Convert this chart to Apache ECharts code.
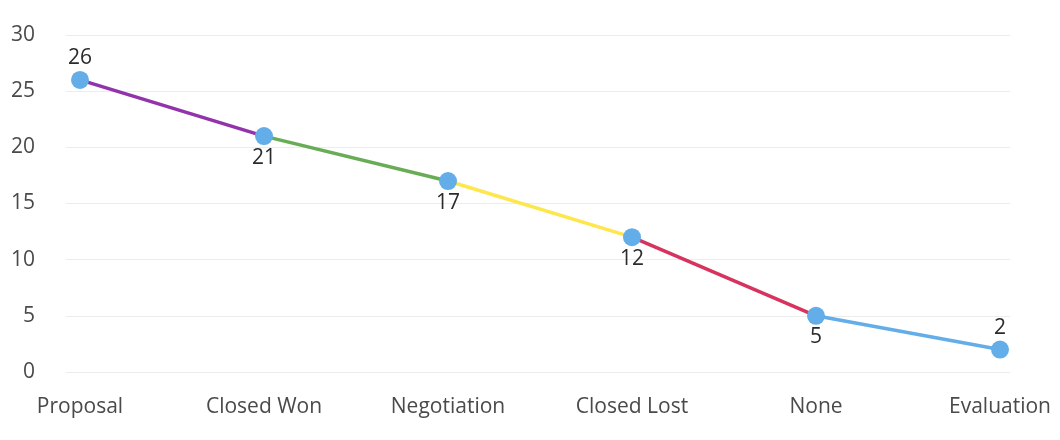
<!DOCTYPE html>
<html>
<head>
<meta charset="utf-8">
<script src="https://cdn.jsdelivr.net/npm/echarts@6/dist/echarts.min.js"></script>
<style>
html, body { margin: 0; padding: 0; background: #fff; }
#container { width: 1060px; height: 440px; }
</style>
</head>
<body>
<div id="container"></div>
<script>
// stages and counts
var stages = ['Proposal', 'Closed Won', 'Negotiation', 'Closed Lost', 'None', 'Evaluation'];
var counts = [26, 21, 17, 12, 5, 2];
var yTicks = [0, 5, 10, 15, 20, 25, 30];
// colour of the line going out of each stage
var segColors = ['#9333ab', '#68ad55', '#fde74c', '#d6335f', '#63ade8'];
var labelSide = ['top', 'bottom', 'bottom', 'bottom', 'bottom', 'top'];

var myChart = echarts.init(document.getElementById('container'));
var font = 'Open Sans';

var series = [];
// one little line per segment so each can have its own colour
for (var i = 0; i < counts.length - 1; i++) {
    series.push({
        type: 'line',
        data: [[i, counts[i]], [i + 1, counts[i + 1]]],
        showSymbol: false,
        silent: true,
        lineStyle: {color: segColors[i], width: 3.5},
        z: 2
    });
}
// points + labels on top
series.push({
    type: 'scatter',
    data: counts.map(function (v, i) {
        return {
            value: [i, v],
            label: {position: labelSide[i]}
        };
    }),
    symbolSize: 18,
    itemStyle: {color: '#63ade8', opacity: 1},
    label: {
        show: true,
        distance: 2,
        color: '#2b2b2b',
        fontSize: 21,
        fontFamily: font,
        formatter: function (p) { return p.value[1]; }
    },
    z: 3
});

var option = {
    animation: false,
    grid: {left: 66, right: 50, top: 35, bottom: 68},
    xAxis: {
        type: 'value',
        min: -0.0761,
        max: 5.0543,
        splitLine: {show: false},
        axisLine: {show: false},
        axisTick: {show: false},
        axisLabel: {
            customValues: stages.map(function (s, i) { return i; }),
            formatter: function (v) { return stages[Math.round(v)]; },
            color: '#4a4a4a',
            fontSize: 21,
            fontFamily: font,
            margin: 25
        }
    },
    yAxis: {
        type: 'value',
        min: yTicks[0],
        max: yTicks[yTicks.length - 1],
        interval: 5,
        axisLine: {show: false},
        axisTick: {show: false},
        splitLine: {lineStyle: {color: '#ececec', width: 1}},
        axisLabel: {
            color: '#4a4a4a',
            fontSize: 21,
            fontFamily: font,
            margin: 31
        }
    },
    series: series
};
myChart.setOption(option);
</script>
</body>
</html>
